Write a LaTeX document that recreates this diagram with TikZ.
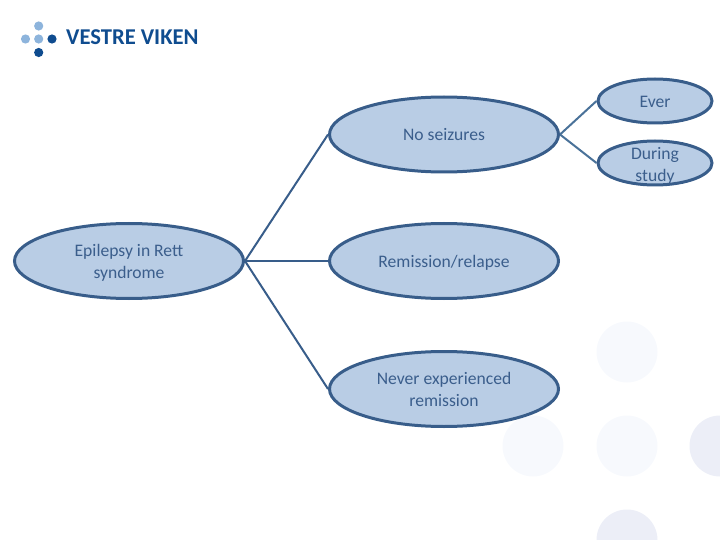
\documentclass[tikz,border=0pt]{standalone}
\usepackage{fontspec}
\setmainfont{Carlito}
\usetikzlibrary{shapes.geometric}
\definecolor{edgeblue}{HTML}{385D8A}
\definecolor{fillblue}{HTML}{B9CDE5}
\definecolor{textblue}{HTML}{3B5E8C}
\definecolor{thinblue}{HTML}{4A7299}
\definecolor{logolight}{HTML}{8DB4DC}
\definecolor{logodark}{HTML}{0F4C8F}
\definecolor{dotpale}{HTML}{F7F9FD}
\definecolor{dotdeep}{HTML}{ECEEF7}
\newcommand{\lowr}[1]{\rule{0pt}{#1pt}}
\tikzset{
  bigoval/.style={ellipse,draw=edgeblue,fill=fillblue,line width=3pt,inner sep=0pt,
    minimum width=229pt,minimum height=75pt,text=textblue,align=center,font=\fontsize{17.6}{22}\selectfont},
  smalloval/.style={bigoval,inner ysep=-9pt,minimum width=114pt,minimum height=44pt},
  cline/.style={draw=edgeblue,line width=2pt},
  tline/.style={draw=thinblue,line width=2pt}
}
\begin{document}
\begin{tikzpicture}[x=1pt,y=-1pt]
  \useasboundingbox (0,0) rectangle (720,540);
  % background dots
  \foreach \dx/\dy in {627/352,533/446,627/446} {\fill[dotpale] (\dx,\dy) circle (30.5);}
  \foreach \dx/\dy in {720/446,627/540} {\fill[dotdeep] (\dx,\dy) circle (30.5);}
  % logo
  \foreach \dx/\dy in {38.7/26,25.5/39,38.7/39} {\fill[logolight] (\dx,\dy) circle (4.6);}
  \foreach \dx/\dy in {52/39,38.7/52.5} {\fill[logodark] (\dx,\dy) circle (4.6);}
  \node[anchor=west,inner sep=0pt,text=logodark,font=\fontsize{22.6}{24}\selectfont\bfseries] (logo) at (66,37) {VESTRE VIKEN};
  % ovals
  \node[bigoval] (root) at (129,261) {\lowr{15.5}Epilepsy in Rett\\syndrome};
  \node[bigoval] (noseiz) at (444,134.5) {\lowr{13}No seizures};
  \node[bigoval] (remis) at (444,261) {\lowr{15.5}Remission/relapse};
  \node[bigoval] (never) at (444,389) {Never experienced\\remission};
  \node[smalloval] (ever) at (655,101) {\lowr{14}Ever};
  \node[smalloval] (during) at (655,163) {\lowr{17}During\\study};
  % connectors
  \draw[cline] (root.east) -- (noseiz.west);
  \draw[cline] (root.east) -- (remis.west);
  \draw[cline] (root.east) -- (never.west);
  \draw[tline] (noseiz.east) -- (ever.west);
  \draw[tline] (noseiz.east) -- (during.west);
\end{tikzpicture}
\end{document}
